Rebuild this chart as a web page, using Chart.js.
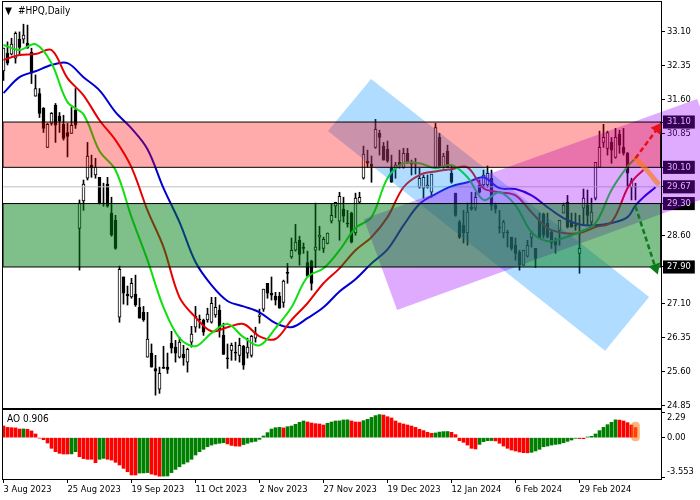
<!DOCTYPE html>
<html>
<head>
<meta charset="utf-8">
<title>#HPQ,Daily</title>
<script src="https://cdn.jsdelivr.net/npm/chart.js@4/dist/chart.umd.min.js"></script>
<style>
  html, body { margin: 0; padding: 0; background: #fff; }
  canvas { position: absolute; left: 0; }
  #price { top: 0; }
  #ao { top: 409px; }
</style>
</head>
<body>
<canvas id="price" width="700" height="410"></canvas>
<canvas id="ao" width="700" height="91"></canvas>
<script>
// candles, one entry per trading day
const opens = [32.23,32.62,32.60,32.51,32.93,32.93,32.84,32.64,31.67,31.73,31.40,30.54,31.07,31.47,31.23,31.05,30.87,30.85,31.36,28.75,
  29.36,29.86,30.15,29.93,29.88,29.29,29.73,29.09,28.93,26.79,27.68,27.30,27.24,27.30,27.01,26.90,25.91,26.00,25.66,25.20,
  25.69,25.69,26.22,26.13,25.91,25.97,25.80,26.24,26.57,26.75,26.73,26.73,26.68,26.84,26.95,26.39,25.89,26.06,26.02,25.95,
  26.15,26.00,25.95,26.33,26.81,26.97,27.54,27.32,27.26,27.26,27.12,27.78,28.12,28.27,28.49,28.34,28.00,28.03,28.27,28.56,
  28.31,28.42,28.91,29.24,28.91,29.18,28.87,29.09,28.65,29.33,29.86,30.24,30.17,30.54,30.85,30.57,30.50,30.08,30.08,30.21,
  30.10,30.41,30.19,30.19,29.66,29.64,29.66,29.55,30.10,30.76,30.10,30.46,29.97,29.53,28.89,28.82,28.65,29.22,29.20,29.71,
  29.71,29.71,29.86,29.26,28.78,28.65,28.67,28.56,28.38,28.23,27.94,28.14,28.54,28.31,28.91,29.07,28.87,28.67,28.49,28.71,
  29.09,29.33,28.89,28.82,28.20,29.20,29.26,28.89,29.42,30.10,30.65,30.52,30.65,30.32,30.83,30.54,30.41,29.66,29.66];
const highs = [32.73,32.87,32.95,33.09,33.09,33.26,33.24,32.73,32.14,31.84,31.42,31.07,31.31,31.51,31.31,31.25,31.07,31.42,31.84,29.38,
  29.82,30.65,30.37,30.30,29.88,29.75,29.88,29.44,29.04,27.92,27.68,27.48,27.65,27.72,27.21,27.03,26.90,26.20,25.95,25.69,
  26.15,26.00,26.48,26.28,26.35,26.17,26.11,26.59,27.03,26.84,26.75,26.99,27.23,27.23,27.06,26.66,26.20,26.22,26.24,26.33,
  26.17,26.33,26.39,26.57,26.97,27.41,27.54,27.68,27.34,27.34,27.61,27.98,28.54,28.84,28.58,28.43,28.25,28.05,29.31,28.80,
  28.56,28.65,29.29,29.33,29.55,29.44,29.15,29.11,29.53,29.55,30.57,30.48,30.35,31.16,30.92,30.65,30.68,30.37,30.21,30.48,
  30.52,30.52,30.26,30.30,30.08,29.93,29.93,29.95,31.07,30.85,30.41,30.59,30.15,29.53,28.93,29.15,29.31,29.55,29.55,29.82,
  30.04,30.13,30.04,29.31,29.15,28.93,28.71,28.56,28.54,28.27,28.27,28.49,28.69,28.31,29.09,29.09,29.09,28.71,28.54,28.93,
  29.31,29.48,29.09,29.09,29.04,29.62,29.60,29.42,30.21,30.90,31.05,30.90,30.76,30.96,30.92,30.96,30.43,29.86,29.75];
const lows = [32.02,32.36,32.58,32.40,32.58,32.84,32.73,31.95,31.67,31.20,30.87,30.54,31.03,30.65,30.87,30.70,30.33,30.85,30.96,27.83,
  29.15,29.82,29.88,29.86,29.29,29.24,29.22,28.58,28.29,26.68,27.08,27.06,27.21,27.03,26.77,26.70,25.91,25.69,25.07,25.11,
  25.66,25.55,26.00,25.80,25.89,25.73,25.58,26.13,26.46,26.55,26.39,26.68,26.66,26.79,26.35,25.97,25.66,25.84,25.84,25.80,
  25.64,25.89,25.91,26.24,26.66,26.92,27.21,27.17,27.06,26.99,27.01,27.54,28.09,28.25,27.94,28.20,27.68,27.39,27.89,28.27,
  28.22,28.41,28.87,28.99,28.49,28.89,28.78,28.43,28.60,29.31,29.84,30.10,29.77,30.52,30.37,30.26,30.21,29.77,29.86,30.08,
  30.08,30.19,29.93,29.95,29.64,29.42,29.64,29.44,30.08,30.10,30.08,30.10,29.75,29.02,28.53,28.43,28.38,29.15,29.15,29.53,
  29.66,29.66,29.15,29.09,28.65,28.54,28.34,28.27,28.05,27.83,27.93,28.12,28.34,27.89,28.54,28.54,28.54,28.31,28.20,28.38,
  29.09,28.76,28.78,28.71,27.76,28.82,28.82,28.82,29.38,30.10,30.54,30.37,30.19,30.30,30.41,30.37,29.66,29.38,29.38];
const closes = [32.73,32.40,32.82,33.06,32.75,33.02,32.73,32.18,31.84,31.29,30.96,31.05,31.29,31.03,31.12,30.74,30.78,31.03,31.03,29.31,
  29.73,30.35,30.10,30.10,29.31,29.31,29.24,28.60,28.31,27.85,27.32,27.26,27.54,27.06,26.77,26.73,26.31,25.69,25.60,25.55,
  25.66,25.64,26.11,26.00,26.24,25.89,26.08,26.42,26.81,26.73,26.46,26.86,27.10,27.01,26.51,25.97,25.87,26.17,26.00,26.17,
  25.73,26.13,26.37,26.44,26.84,27.41,27.32,27.28,27.17,26.99,27.59,27.76,28.27,28.45,28.18,28.31,27.70,27.54,28.34,28.60,
  28.51,28.65,29.04,29.33,29.46,29.02,28.85,28.45,29.42,29.44,30.39,30.19,30.12,30.94,30.76,30.26,30.24,29.77,30.15,30.15,
  30.41,30.19,30.17,30.17,29.86,29.88,29.71,29.95,30.98,30.12,30.35,30.10,29.77,29.04,28.56,28.65,29.11,29.18,29.44,29.55,
  29.93,29.97,29.26,29.18,28.76,28.89,28.65,28.31,28.20,27.94,28.27,28.38,28.65,28.09,28.54,28.60,28.56,28.43,28.38,28.93,
  29.26,28.78,28.78,28.80,28.31,29.42,29.04,29.11,30.21,30.54,30.76,30.87,30.48,30.76,30.59,30.41,29.97,29.80,29.67];

// moving average lines, read every few bars
const lineBars = [0,4,8,12,16,20,24,28,32,36,40,44,48,52,56,60,64,68,72,76,80,84,88,92,96,100,104,108,112,116,120,124,128,132,136,140,144,148,152,156,158,160,163];
const greenLine = [32.80,32.69,32.82,32.40,31.54,31.27,30.46,30.04,29.00,28.05,27.01,26.33,26.15,26.44,26.64,26.35,26.17,26.55,27.01,27.68,27.87,28.27,28.76,29.00,29.86,30.19,30.19,30.08,30.15,29.88,29.38,29.55,29.26,28.67,28.47,28.54,28.67,28.87,29.60,30.12,30.30,null,null];
const redLine = [32.47,32.58,32.60,32.69,32.07,31.69,31.14,30.70,30.10,29.15,28.34,27.23,26.79,26.48,26.57,26.64,26.37,26.31,26.73,27.10,27.54,27.87,28.27,28.56,29.00,29.66,29.93,30.01,30.06,30.10,29.64,29.55,29.48,29.11,28.76,28.65,28.65,28.78,28.89,29.64,29.88,30.04,null];
const blueLine = [31.74,32.09,32.22,32.36,32.40,32.09,31.80,31.32,30.96,30.50,29.64,28.89,28.01,27.50,27.15,27.03,26.90,26.66,26.57,26.77,27.01,27.36,27.63,27.98,28.29,28.82,29.29,29.51,29.68,29.77,29.88,29.64,29.62,29.48,29.22,28.98,28.84,28.82,28.87,29.00,29.26,29.44,29.66];

// awesome oscillator
const aoValues = [1.04,0.92,0.89,0.87,0.77,0.78,0.75,0.60,0.33,-0.04,-0.18,-0.48,-0.95,-1.25,-1.40,-1.46,-1.46,-1.45,-1.25,-1.70,
  -1.87,-1.93,-1.93,-2.23,-1.93,-1.85,-1.93,-2.00,-2.20,-2.44,-2.74,-3.04,-3.33,-3.33,-3.16,-3.15,-3.12,-3.25,-3.33,-3.44,
  -3.43,-3.42,-3.12,-2.83,-2.60,-2.35,-2.18,-1.93,-1.55,-1.25,-1.04,-0.81,-0.66,-0.56,-0.50,-0.45,-0.56,-0.69,-0.75,-0.76,
  -0.62,-0.50,-0.39,-0.33,-0.15,0.15,0.45,0.77,0.89,0.92,0.87,0.98,1.04,1.19,1.37,1.49,1.40,1.31,1.25,1.22,
  1.13,1.28,1.40,1.49,1.50,1.58,1.59,1.49,1.40,1.39,1.52,1.64,1.81,1.97,2.06,2.02,1.87,1.76,1.49,1.31,
  1.22,1.13,1.04,0.92,0.75,0.63,0.48,0.39,0.42,0.50,0.54,0.55,0.48,0.27,-0.27,-0.42,-0.66,-0.95,-1.01,-0.60,
  -0.36,-0.27,-0.26,-0.29,-0.50,-0.75,-0.95,-1.10,-1.19,-1.28,-1.34,-1.35,-1.31,-1.19,-1.04,-0.81,-0.75,-0.66,-0.60,-0.56,
  -0.45,-0.33,-0.21,-0.06,-0.08,-0.09,0.06,0.12,0.33,0.63,0.92,1.16,1.37,1.59,1.57,1.49,1.34,1.13,0.906];
const aoHighlight = [-0.29, 1.40];
const aoTicks = [2.29, 0, -3.553];
// blank lines push the two outer labels inside the panel
const aoTickLabels = [['', '2.29'], '0.00', ['-3.553', '']];

// axis labels
const dateBars = [0,16,32,48,64,80,96,112,128,144];
const dateLabels = ['3 Aug 2023','25 Aug 2023','19 Sep 2023','11 Oct 2023','2 Nov 2023','27 Nov 2023','19 Dec 2023','12 Jan 2024','6 Feb 2024','29 Feb 2024'];
const priceTicks = [33.10,32.35,31.60,30.85,28.60,27.10,26.35,25.60,24.85];
const levelTags = [31.10,30.10,29.67,29.30,27.90];

// zones and channels, in bar number and price
const redZone = [30.10, 31.10];
const greenZone = [27.90, 29.30];
const lastPrice = 29.67;
const blueChannelBars = [91.9,81.1,150.4,161.4];
const blueChannelPrices = [32.05,30.90,26.05,27.24];
const purpleChannelBars = [90.1,98.4,181.6,173.4];
const purpleChannelPrices = [28.96,26.95,29.62,31.61];

// forecast arrows
const upArrowBars = [158,163.5];
const upArrowPrices = [30.30,30.96];
const downArrowBars = [158,163];
const downArrowPrices = [29.24,27.88];
const orangeBars = [158,161,163.5];
const orangePrices = [30.30,30.02,29.75];

const FONT_FAMILY = '"DejaVu Sans Condensed", "Liberation Sans", sans-serif';
const FONT = { family: FONT_FAMILY, size: 9.25 };
const barMin = -0.125;
const barMax = 164.375;
const bars = opens.map((_, i) => i);

const points = (xs, ys) => xs.map((x, i) => ({ x, y: ys[i] }));
const closed = (xs, ys) => points([...xs, xs[0]], [...ys, ys[0]]);

function zone(range, color, order) {
  const xs = [barMin, barMax, barMax, barMin];
  const ys = [range[1], range[1], range[0], range[0]];
  return {
    type: 'line', data: closed(xs, ys), order,
    fill: 'shape', backgroundColor: color,
    borderColor: '#000', borderWidth: 1, pointRadius: 0, tension: 0
  };
}

// the channel runs over the price axis too, so the plugin below fills it
function channel(xs, ys, color, order) {
  return {
    type: 'line', data: closed(xs, ys), order, channelColor: color,
    showLine: false, fill: false, pointRadius: 0
  };
}

function maLine(values, color, order) {
  return {
    type: 'line', data: points(lineBars, values), order,
    borderColor: color, borderWidth: 2, pointRadius: 0,
    tension: 0.35, fill: false, spanGaps: false
  };
}

function arrow(xs, ys, color, angle, order) {
  return {
    type: 'line', data: points(xs, ys), order,
    borderColor: color, backgroundColor: color, borderWidth: 2.5,
    borderDash: [5, 3], fill: false, tension: 0, clip: false,
    pointStyle: 'triangle', pointRadius: [0, 7], pointBorderWidth: 0,
    pointRotation: [0, angle]
  };
}

// no room for half a label at the ends of an axis
function noEdgePadding(axis) {
  axis.paddingTop = axis.paddingBottom = axis.paddingLeft = axis.paddingRight = 0;
}

const channelPlugin = {
  id: 'channel',
  afterDatasetDraw(chart, args) {
    const color = chart.data.datasets[args.index].channelColor;
    if (!color) return;
    const { ctx } = chart;
    ctx.save();
    ctx.fillStyle = color;
    ctx.beginPath();
    args.meta.data.forEach((pt, i) => i ? ctx.lineTo(pt.x, pt.y) : ctx.moveTo(pt.x, pt.y));
    ctx.closePath();
    ctx.fill();
    ctx.restore();
  }
};

// frame round the plot and the small captions inside it
const framePlugin = {
  id: 'frame',
  afterDraw(chart, args, opts) {
    const { ctx, chartArea: a } = chart;
    ctx.save();
    ctx.strokeStyle = '#000';
    ctx.lineWidth = 1;
    ctx.strokeRect(a.left - 0.5, a.top - 0.5, a.right - a.left + 1, a.bottom - a.top + 1);
    ctx.fillStyle = '#000';
    ctx.textBaseline = 'middle';
    (opts.captions || []).forEach(c => {
      ctx.font = `${c.size}px ${FONT_FAMILY}`;
      ctx.fillText(c.text, c.x, c.y);
    });
    ctx.restore();
  }
};

new Chart(document.getElementById('price'), {
  data: {
    datasets: [
      { type: 'bar', data: bars.map(i => ({ x: i, y: [lows[i], highs[i]] })), order: 20,
        barThickness: 1, backgroundColor: '#000', borderWidth: 0, grouped: false },
      { type: 'bar', data: bars.map(i => ({ x: i, y: [opens[i], closes[i]] })), order: 19,
        barThickness: 3, minBarLength: 1, grouped: false, borderSkipped: false, borderWidth: 1, borderColor: '#000',
        backgroundColor: bars.map(i => closes[i] > opens[i] ? '#fff' : '#000') },
      { type: 'line', data: points([barMin, barMax], [lastPrice, lastPrice]), order: 18,
        borderColor: '#c0c0c0', borderWidth: 1, pointRadius: 0, fill: false },
      maLine(blueLine, '#0000d0', 17),
      maLine(redLine, '#e60000', 16),
      maLine(greenLine, '#10e010', 15),
      channel(blueChannelBars, blueChannelPrices, 'rgba(0,142,255,0.31)', 10),
      channel(purpleChannelBars, purpleChannelPrices, 'rgba(155,0,255,0.33)', 9),
      zone(redZone, 'rgba(255,0,0,0.33)', 8),
      zone(greenZone, 'rgba(0,128,20,0.5)', 7),
      { type: 'line', data: points(orangeBars, orangePrices), order: 3,
        borderColor: 'rgba(255,120,20,0.65)', borderWidth: 5, pointRadius: 0, tension: 0.2,
        borderCapStyle: 'round', fill: false },
      arrow(upArrowBars, upArrowPrices, '#e8101c', 36, 2),
      arrow(downArrowBars, downArrowPrices, '#0a7a1a', 161, 1)
    ]
  },
  options: {
    responsive: false,
    animation: false,
    layout: { autoPadding: false, padding: { left: 3, top: 2, bottom: 2 } },
    plugins: {
      legend: { display: false },
      tooltip: { enabled: false },
      frame: { captions: [
        { text: '▼', x: 5, y: 11, size: 10 },
        { text: '#HPQ,Daily', x: 18, y: 11, size: 10 }
      ] }
    },
    scales: {
      x: {
        type: 'linear', display: false, offset: false, min: barMin, max: barMax
      },
      y: {
        position: 'right', min: 24.787, max: 33.75,
        afterFit(axis) { axis.width = 39; noEdgePadding(axis); },
        afterBuildTicks(axis) {
          axis.ticks = [...priceTicks, ...levelTags].map(value => ({ value }));
        },
        border: { display: false },
        grid: { drawOnChartArea: false, drawTicks: true, tickLength: 4, tickColor: '#000' },
        ticks: {
          autoSkip: false,
          font: FONT,
          padding: 2,
          crossAlign: 'near',
          callback: value => value.toFixed(2),
          color: ctx => levelTags.includes(ctx.tick.value) ? '#fff' : '#000',
          showLabelBackdrop: ctx => levelTags.includes(ctx.tick.value),
          backdropColor: '#000',
          backdropPadding: { left: 4, right: 4, top: 1, bottom: 1 }
        }
      }
    }
  },
  plugins: [channelPlugin, framePlugin]
});

new Chart(document.getElementById('ao'), {
  data: {
    datasets: [
      { type: 'bar', data: bars.map(i => ({ x: i, y: aoValues[i] })), order: 2,
        barThickness: 3, grouped: false, borderWidth: 0,
        backgroundColor: aoValues.map((v, i) => i === 0 || v <= aoValues[i - 1] ? '#ff0000' : '#008000') },
      { type: 'bar', data: [{ x: bars[bars.length - 1], y: aoHighlight }], order: 1,
        barThickness: 8, grouped: false, borderWidth: 0, borderSkipped: false, borderRadius: 4,
        backgroundColor: 'rgba(255,120,20,0.55)' }
    ]
  },
  options: {
    responsive: false,
    animation: false,
    layout: { autoPadding: false, padding: { left: 3, top: 1 } },
    plugins: {
      legend: { display: false },
      tooltip: { enabled: false },
      frame: { captions: [{ text: 'AO 0.906', x: 7, y: 10, size: 10 }] }
    },
    scales: {
      x: {
        type: 'linear', offset: false, min: barMin, max: barMax,
        afterFit(axis) { axis.height = 21; noEdgePadding(axis); },
        afterBuildTicks(axis) { axis.ticks = dateBars.map(value => ({ value })); },
        border: { display: false },
        grid: { drawOnChartArea: false, offset: false, tickLength: 4, tickColor: '#000' },
        ticks: {
          autoSkip: false, maxRotation: 0, font: FONT, padding: 1, color: '#000', align: 'start',
          callback: value => dateLabels[dateBars.indexOf(value)]
        }
      },
      y: {
        position: 'right', min: -3.69, max: 2.47,
        afterFit(axis) { axis.width = 39; noEdgePadding(axis); },
        afterBuildTicks(axis) { axis.ticks = aoTicks.map(value => ({ value })); },
        border: { display: false },
        grid: { drawOnChartArea: false, tickLength: 4, tickColor: '#000' },
        ticks: {
          autoSkip: false, font: FONT, padding: 2, color: '#000', crossAlign: 'near',
          callback: value => aoTickLabels[aoTicks.indexOf(value)]
        }
      }
    }
  },
  plugins: [framePlugin]
});
</script>
</body>
</html>
